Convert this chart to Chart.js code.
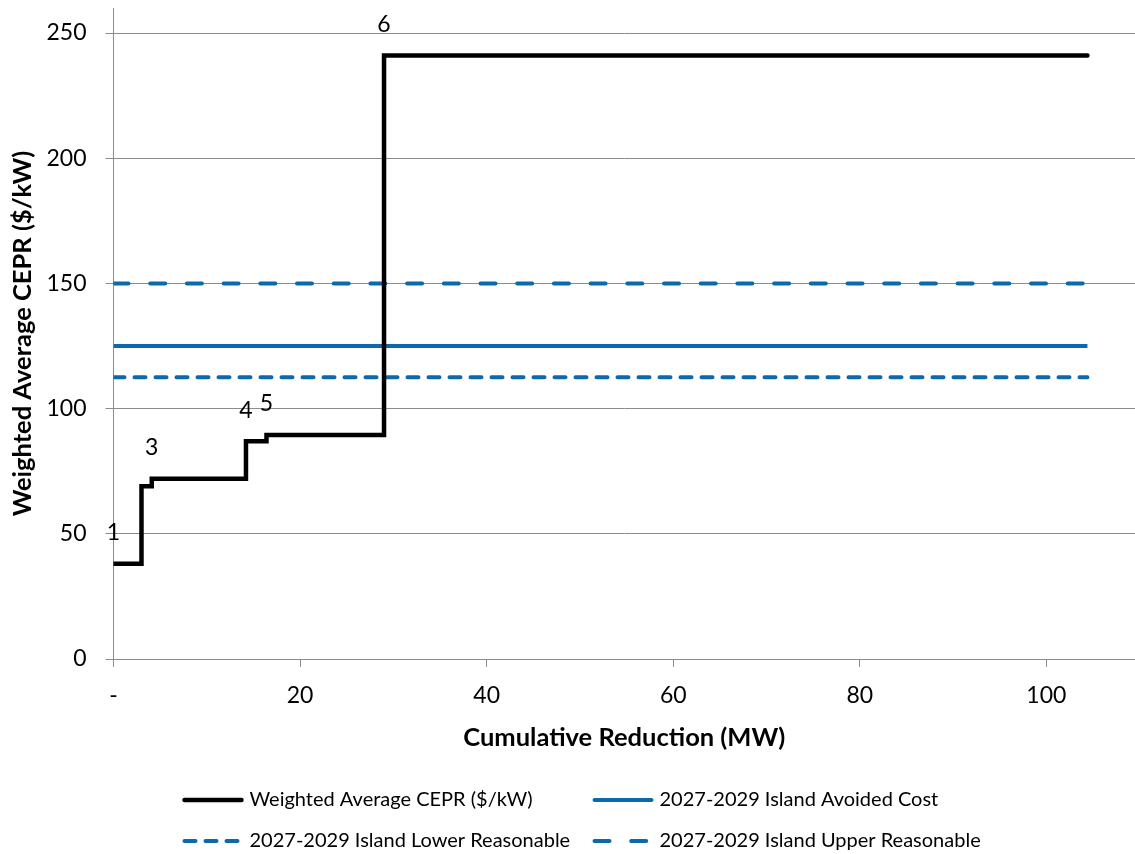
<!DOCTYPE html>
<html>
<head>
<meta charset="utf-8">
<script src="https://cdn.jsdelivr.net/npm/chart.js@4.4.1/dist/chart.umd.min.js"></script>
<style>
  html, body { margin: 0; padding: 0; background: #fff; }
  #wrap { width: 1135px; height: 854px; }
</style>
</head>
<body>
<div id="wrap"><canvas id="cepr"></canvas></div>
<script>
// step curve (cumulative MW, $/kW)
const stepMW    = [0, 3, 4.1, 14.2, 16.4, 29, 104.4];
const stepCEPR  = [38, 69, 72, 87, 89.5, 241, 241];
const stepLabels = ['1', '', '3', '4', '5', '6', ''];

// flat reference lines
const lineMW = [0, 104.4];
const avoidedCost = [125, 125];
const lowerReasonable = [112.5, 112.5];
const upperReasonable = [150, 150];

const yTicks = [0, 50, 100, 150, 200, 250];
const xTicks = [0, 20, 40, 60, 80, 100];

const BLUE = '#0b69ad';
const GRID = '#8c8c8c';
const FONT = 'Lato, "Liberation Sans", sans-serif';

function pts(xs, ys) {
    return xs.map((x, i) => ({ x: x, y: ys[i] }));
}

// labels "1".."6" above the step corners
const stepLabelPlugin = {
    id: 'stepLabels',
    afterDatasetsDraw(chart) {
        const meta = chart.getDatasetMeta(0);
        const ctx = chart.ctx;
        ctx.save();
        ctx.font = '23px ' + FONT;
        ctx.fillStyle = '#000';
        ctx.textAlign = 'center';
        ctx.textBaseline = 'middle';
        meta.data.forEach((p, i) => {
            if (stepLabels[i]) ctx.fillText(stepLabels[i], p.x, p.y - 31);
        });
        ctx.restore();
    }
};

// two-column legend like the excel one
const gridLegendPlugin = {
    id: 'gridLegend',
    afterDraw(chart) {
        const ctx = chart.ctx;
        const area = chart.chartArea;
        const cols = [area.left + 69, area.left + 479];
        const rows = [area.bottom + 141, area.bottom + 182];
        ctx.save();
        ctx.font = '20px ' + FONT;
        ctx.textBaseline = 'middle';
        ctx.textAlign = 'left';
        chart.data.datasets.forEach((ds, i) => {
            const x = cols[i % 2];
            const y = rows[Math.floor(i / 2)];
            ctx.strokeStyle = ds.borderColor;
            ctx.lineWidth = ds.borderWidth;
            ctx.lineCap = 'round';
            ctx.setLineDash(ds.borderDash || []);
            ctx.beginPath();
            ctx.moveTo(x + 2, y);
            ctx.lineTo(x + 59, y);
            ctx.stroke();
            ctx.setLineDash([]);
            ctx.fillStyle = '#000';
            ctx.fillText(ds.label, x + 67, y);
        });
        ctx.restore();
    }
};

const chart = new Chart(document.getElementById('cepr'), {
    type: 'line',
    data: {
        datasets: [
            {
                label: 'Weighted Average CEPR ($/kW)',
                data: pts(stepMW, stepCEPR),
                borderColor: '#000',
                borderWidth: 4.5,
                stepped: true,
                pointRadius: 0,
                borderCapStyle: 'round'
            },
            {
                label: '2027-2029 Island Avoided Cost',
                data: pts(lineMW, avoidedCost),
                borderColor: BLUE,
                borderWidth: 4,
                pointRadius: 0
            },
            {
                label: '2027-2029 Island Lower Reasonable',
                data: pts(lineMW, lowerReasonable),
                borderColor: BLUE,
                borderWidth: 4,
                borderDash: [11, 10],
                borderCapStyle: 'round',
                pointRadius: 0
            },
            {
                label: '2027-2029 Island Upper Reasonable',
                data: pts(lineMW, upperReasonable),
                borderColor: BLUE,
                borderWidth: 4,
                borderDash: [15, 21.7],
                borderCapStyle: 'round',
                pointRadius: 0
            }
        ]
    },
    options: {
        responsive: true,
        maintainAspectRatio: false,
        animation: false,
        layout: { padding: { top: 8, right: 0, bottom: 95, left: 0 } },
        plugins: {
            legend: { display: false },
            tooltip: { enabled: false }
        },
        scales: {
            x: {
                type: 'linear',
                min: 0,
                max: 109.5,
                afterBuildTicks: s => { s.ticks = xTicks.map(v => ({ value: v })); },
                afterFit: s => {
                    s.height = 100;
                    s.paddingLeft = 0; s.paddingRight = 0;
                },
                ticks: {
                    color: '#000',
                    font: { family: FONT, size: 23 },
                    padding: 15,
                    maxRotation: 0,
                    callback: v => (v === 0 ? '-' : v)
                },
                grid: { drawOnChartArea: false, tickLength: 8, color: GRID },
                border: { color: GRID },
                title: {
                    display: true,
                    text: 'Cumulative Reduction (MW)',
                    color: '#000',
                    font: { family: FONT, size: 25.5, weight: 'bold' },
                    padding: { top: 0, bottom: 6 }
                }
            },
            y: {
                min: 0,
                max: 260,
                afterBuildTicks: s => { s.ticks = yTicks.map(v => ({ value: v })); },
                afterFit: s => {
                    s.width = 113.5;
                    s.paddingTop = 0; s.paddingBottom = 0;
                },
                ticks: {
                    color: '#000',
                    font: { family: FONT, size: 23 },
                    padding: 19
                },
                grid: { color: GRID, tickLength: 8 },
                border: { color: GRID },
                title: {
                    display: true,
                    text: 'Weighted Average CEPR ($/kW)',
                    color: '#000',
                    font: { family: FONT, size: 25.5, weight: 'bold' },
                    padding: { top: 7, bottom: 0 }
                }
            }
        }
    },
    plugins: [stepLabelPlugin, gridLegendPlugin]
});
</script>
</body>
</html>
